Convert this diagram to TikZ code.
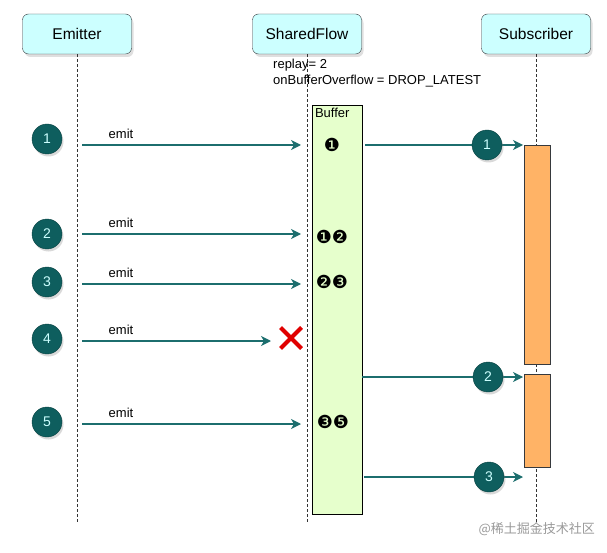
\documentclass[tikz,border=0pt]{standalone}
\usepackage{fontspec}
\setmainfont{Liberation Sans}
\newfontfamily\dingfont{DejaVu Sans}
\newfontfamily\cjkfont{Noto Sans CJK SC}
\usetikzlibrary{arrows.meta,shadows,shapes.misc}
\definecolor{FlowCyan}{HTML}{CCFFFF}
\definecolor{FlowTeal}{HTML}{0E5E5E}
\definecolor{FlowWire}{HTML}{1C6E6E}
\definecolor{FlowGreen}{HTML}{E6FFCC}
\definecolor{FlowOrange}{HTML}{FFB366}
\definecolor{FlowRed}{HTML}{E00000}
\definecolor{FlowEdge}{HTML}{36393D}
\tikzset{
  actor/.style={draw=FlowEdge, fill=FlowCyan, rounded corners=6pt,
    minimum width=109pt, minimum height=40pt, font=\fontsize{15.5}{18}\selectfont,
    drop shadow={shadow xshift=2pt, shadow yshift=-3pt, opacity=.25}},
  lifeline/.style={draw=black!80, dash pattern=on 3pt off 2pt},
  bufferbox/.style={draw=black, fill=FlowGreen, minimum width=50pt,
    minimum height=409pt, inner sep=0pt},
  activation/.style={draw=FlowEdge, fill=FlowOrange, minimum width=26pt, inner sep=0pt},
  token/.style={circle, fill=FlowTeal, draw=FlowTeal!70!black, minimum size=30pt,
    inner sep=0pt, text=FlowCyan, font=\fontsize{14}{16}\selectfont,
    drop shadow={shadow xshift=1.5pt, shadow yshift=-2.5pt, opacity=.3}},
  wire/.style={-{Stealth[length=10pt,width=10pt,inset=3pt]}, draw=FlowWire, line width=1.5pt},
  wirelabel/.style={font=\fontsize{13}{15}\selectfont, inner sep=0pt},
  slots/.style={font=\dingfont\fontsize{18}{20}\selectfont, inner sep=0pt},
  note/.style={font=\fontsize{13}{16}\selectfont, align=left, inner sep=0pt}
}
\begin{document}
\begin{tikzpicture}[x=1pt, y=-1pt]
  \useasboundingbox (0,0) rectangle (607,553);

  % participants
  \node[actor] (emitter) at (77,34) {Emitter};
  \node[actor] (flow) at (307,34) {SharedFlow};
  \node[actor] (subscriber) at (536,34) {Subscriber};

  \coordinate (emitterEnd) at (77,523);
  \coordinate (flowEnd) at (307,523);
  \coordinate (subscriberEnd) at (536,523);
  \draw[lifeline] (emitter) -- (emitterEnd);
  \draw[lifeline] (flow) -- (flowEnd);
  \draw[lifeline] (subscriber) -- (subscriberEnd);

  \node[note, anchor=north west] (config) at (273,59) {replay= 2\\onBufferOverflow = DROP\_LATEST};

  % buffer and subscriber activations
  \node[bufferbox] (buffer) at (337,309.5) {};
  \node[anchor=north west, font=\fontsize{13}{15}\selectfont, inner sep=3pt] (buflabel) at (buffer.north west) {Buffer};
  \node[activation, minimum height=219pt] (act1) at (537,254.5) {};
  \node[activation, minimum height=93pt] (act2) at (537,420.5) {};

  % emissions
  \foreach \n/\cy/\ay/\tip in {1/139/145/301, 2/234/234/301, 3/282/284/301, 4/339/341/271, 5/422/424/301} {
    \coordinate (from\n) at (82,\ay);
    \coordinate (to\n) at (\tip,\ay);
    \draw[wire] (from\n) -- (to\n);
    \node[wirelabel] (emit\n) at (121,\ay-11) {emit};
    \node[token] (tok\n) at (47,\cy) {\n};
  }
  \node[cross out, draw=FlowRed, line width=4pt, minimum size=17pt, inner sep=0pt] (drop) at (291,338) {};

  % buffer contents
  \node[slots] (slotA) at (332,145) {❶};
  \node[slots] (slotB) at (332,237) {❶❷};
  \node[slots] (slotC) at (332,282) {❷❸};
  \node[slots] (slotD) at (333,422) {❸❺};

  % deliveries
  \foreach \n/\ay/\sx/\cx in {1/145/365/487, 2/377/362/488, 3/477/364/489} {
    \coordinate (out\n) at (\sx,\ay);
    \coordinate (in\n) at (523,\ay);
    \draw[wire] (out\n) -- (in\n);
    \node[token] (recv\n) at (\cx,\ay) {\n};
  }

  \node[anchor=east, font=\cjkfont\fontsize{13}{15}\selectfont, text=black!40, inner sep=0pt] (mark) at (595,529) {@稀土掘金技术社区};
\end{tikzpicture}
\end{document}
